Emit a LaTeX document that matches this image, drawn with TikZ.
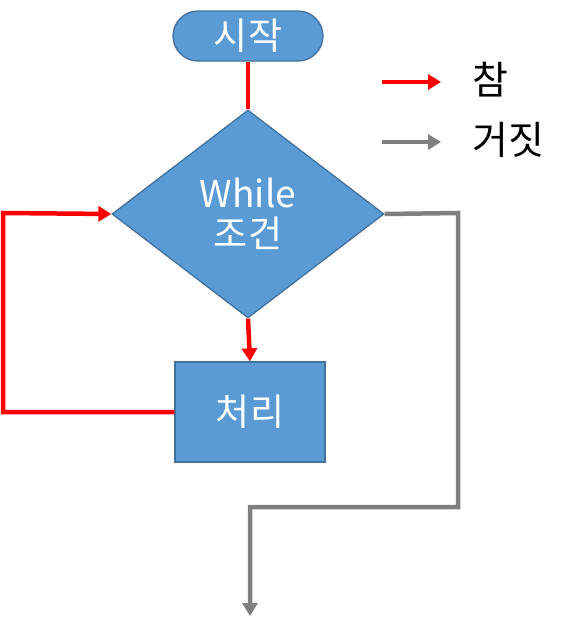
\documentclass[tikz,border=0pt]{standalone}
\usepackage{fontspec}
\setmainfont{Noto Sans CJK KR}
\usetikzlibrary{arrows.meta,shapes.geometric}
\definecolor{boxfill}{HTML}{5B9BD5}
\definecolor{boxline}{HTML}{41719C}
\definecolor{tred}{HTML}{FF0000}
\definecolor{fgray}{HTML}{808080}
\tikzset{
  shapebox/.style={fill=boxfill,draw=boxline,line width=1.3pt,text=white,font=\fontsize{37}{40}\selectfont,align=center,inner sep=0pt},
  redline/.style={draw=tred,line width=4.5pt},
  grayline/.style={draw=fgray,line width=4.5pt},
  tip/.style={-{Triangle[length=13pt,width=15pt]}},
  legtext/.style={font=\fontsize{39}{42}\selectfont,anchor=west,inner sep=0pt}
}
\begin{document}
\begin{tikzpicture}[x=1pt,y=-1pt]
\useasboundingbox (0,0) rectangle (571,632);
\node[shapebox,minimum width=150pt,minimum height=50pt,rounded corners=25pt] (start) at (248,36) {시작};
\node[shapebox,diamond,minimum width=272pt,minimum height=208pt,aspect=1.31] (cond) at (248,214) {While\\조건};
\node[shapebox,minimum width=150pt,minimum height=100pt] (proc) at (250,412) {처리};
\coordinate (loopA) at (3,412);
\coordinate (loopB) at (3,213);
\coordinate (fA) at (458,213);
\coordinate (fB) at (458,507);
\coordinate (fC) at (250,507);
\coordinate (fend) at (250,616);
\draw[redline] (start.south) -- (cond.north);
\draw[redline,tip] (cond.south) -- (proc.north);
\draw[redline,tip] (proc.west) -- (loopA) -- (loopB) -- (cond.west);
\draw[grayline,tip] (cond.east) -- (fA) -- (fB) -- (fC) -- (fend);
\coordinate (l1a) at (382,82);
\coordinate (l1b) at (441,82);
\coordinate (l2a) at (382,142);
\coordinate (l2b) at (441,142);
\draw[redline,tip] (l1a) -- (l1b);
\draw[grayline,tip] (l2a) -- (l2b);
\node[legtext] (ltrue) at (472,80) {참};
\node[legtext] (lfalse) at (472,140) {거짓};
\end{tikzpicture}
\end{document}
